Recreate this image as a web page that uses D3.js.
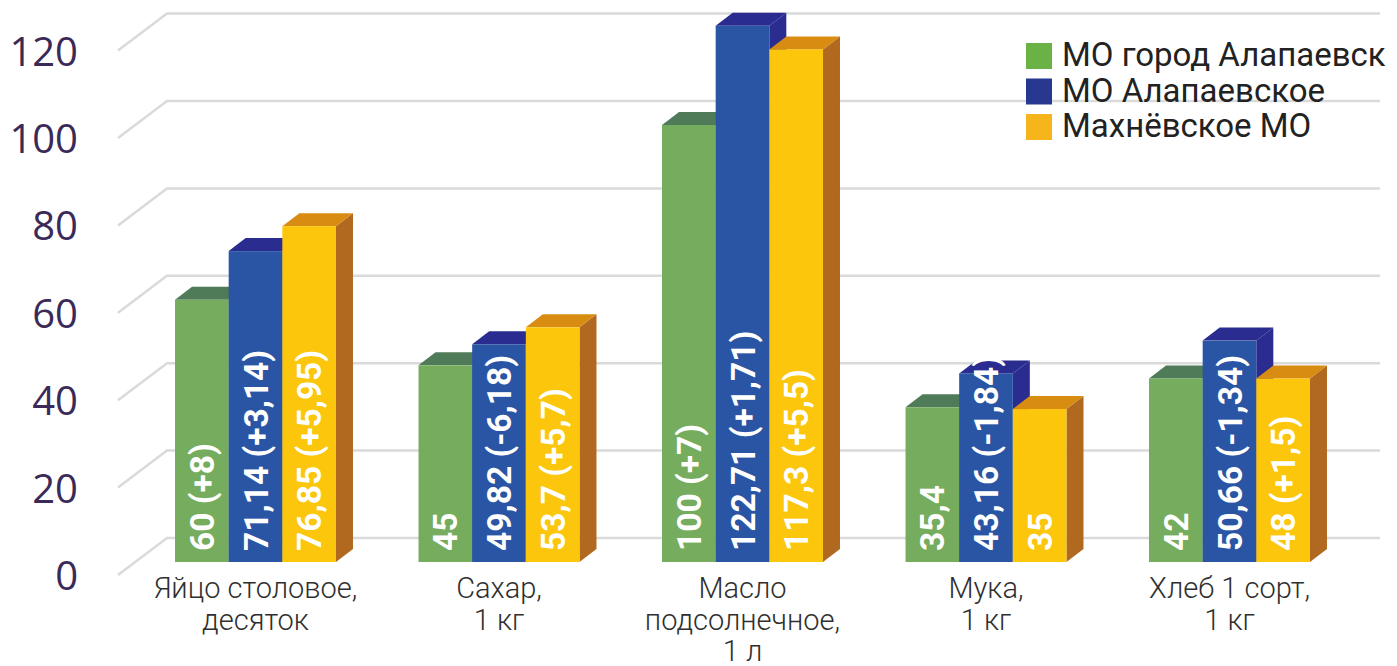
<!DOCTYPE html>
<html><head><meta charset="utf-8">
<script src="https://cdn.jsdelivr.net/npm/d3@7"></script>
<style>html,body{margin:0;padding:0;background:#fff;}svg{display:block;}</style>
</head><body>
<svg id="chart" width="1397" height="666"></svg>
<script>
const categories = [
  ["Яйцо столовое,", "десяток"],
  ["Сахар,", "1 кг"],
  ["Масло", "подсолнечное,", "1 л"],
  ["Мука,", "1 кг"],
  ["Хлеб 1 сорт,", "1 кг"]
];
const seriesNames = ["МО город Алапаевск", "МО Алапаевское", "Махнёвское МО"];
const valuesCity = [60, 45, 100, 35.4, 42];
const valuesAlap = [71.14, 49.82, 122.71, 43.16, 50.66];
const valuesMakh = [76.85, 53.7, 117.3, 35, 42];
const labelsCity = ["60 (+8)", "45", "100 (+7)", "35,4", "42"];
const labelsAlap = ["71,14 (+3,14)", "49,82 (-6,18)", "122,71 (+1,71)", "43,16 (-1,84)", "50,66 (-1,34)"];
const labelsMakh = ["76,85 (+5,95)", "53,7 (+5,7)", "117,3 (+5,5)", "35", "48 (+1,5)"];
const yTicks = [0, 20, 40, 60, 80, 100, 120];

const seriesValues = [valuesCity, valuesAlap, valuesMakh];
const seriesLabels = [labelsCity, labelsAlap, labelsMakh];
const palette = [
  {front: "#75ac5e", top: "#4f7b58", side: "#4f7b58", legend: "#6ab245"},
  {front: "#2a55a5", top: "#2b2c8f", side: "#2b2c8f", legend: "#283891"},
  {front: "#fbc60b", top: "#d98c12", side: "#b0691f", legend: "#f6b51b"}
];

const svg = d3.select("#chart");
const catIdx = categories.map((c, i) => i);
const x = d3.scaleBand().domain(catIdx).range([133.75, 1351.25]).paddingInner(0.339).paddingOuter(0.1695);
const xs = d3.scaleBand().domain([0, 1, 2]).range([0, x.bandwidth()]);
const y = d3.scaleLinear().domain([0, 120]).range([562, 37.6]);

const depthX = 17, depthY = 13;      // bar depth
const backDY = -24, frontDY = 13;    // grid back/front offsets
const gridBackX = 167, gridFrontX = 118, gridRight = 1380;

// gridlines
const grid = svg.append("g");
yTicks.forEach(t => {
  const yy = y(t);
  grid.append("path")
    .attr("d", `M${gridFrontX},${yy + frontDY}L${gridBackX},${yy + backDY}L${gridRight},${yy + backDY}`)
    .attr("fill", "none").attr("stroke", "#dadada").attr("stroke-width", 2.5);
});

// y axis labels
const yAxis = d3.axisLeft(y).tickValues(yTicks).tickSize(0).tickPadding(0);
const gy = svg.append("g").attr("transform", `translate(78,${frontDY})`).call(yAxis);
gy.select(".domain").remove();
gy.selectAll("text").attr("font-family", "'Open Sans', sans-serif").attr("font-size", 40)
  .attr("fill", "#3b2a58").attr("dy", "0.36em");

// bars
const bars = svg.append("g");
catIdx.forEach(ci => {
  [0, 1, 2].forEach(si => {
    const v = seriesValues[si][ci];
    const x0 = x(ci) + xs(si), w = xs.bandwidth();
    const y0 = y(v), yb = y(0);
    const c = palette[si];
    const g = bars.append("g");
    g.append("path").attr("d",
      `M${x0 + w},${y0}L${x0 + w + depthX},${y0 - depthY}L${x0 + w + depthX},${yb - depthY}L${x0 + w},${yb}Z`)
      .attr("fill", c.side);
    g.append("path").attr("d",
      `M${x0},${y0}L${x0 + depthX},${y0 - depthY}L${x0 + w + depthX},${y0 - depthY}L${x0 + w},${y0}Z`)
      .attr("fill", c.top);
    g.append("rect").attr("x", x0).attr("y", y0).attr("width", w).attr("height", yb - y0).attr("fill", c.front);
  });
});

// value labels
const vl = svg.append("g");
catIdx.forEach(ci => {
  [0, 1, 2].forEach(si => {
    const cx = x(ci) + xs(si) + xs.bandwidth() / 2;
    const sy = y(0) - 11;
    vl.append("text")
      .attr("transform", `translate(${cx},${sy}) rotate(-90)`)
      .attr("text-anchor", "start").attr("dy", "0.36em")
      .attr("font-family", "Roboto, sans-serif").attr("font-weight", 700).attr("font-size", 33.5)
      .attr("fill", "#fff").text(seriesLabels[si][ci]);
  });
});

// category labels
const cl = svg.append("g");
catIdx.forEach(ci => {
  const cx = x(ci) + x.bandwidth() / 2;
  const t = cl.append("text").attr("text-anchor", "middle")
    .attr("font-family", "Roboto, sans-serif").attr("font-weight", 300).attr("font-size", 29)
    .attr("fill", "#2f2f2f");
  categories[ci].forEach((line, li) => {
    t.append("tspan").attr("x", cx).attr("y", 598 + li * 31.5).text(line);
  });
});

// legend
const lg = svg.append("g").attr("transform", "translate(1026,43)");
seriesNames.forEach((n, i) => {
  const r = lg.append("g").attr("transform", `translate(0,${i * 35.5})`);
  r.append("rect").attr("width", 26).attr("height", 26).attr("fill", palette[i].legend);
  r.append("text").attr("x", 36).attr("y", 23).attr("font-family", "Roboto, sans-serif")
    .attr("font-size", 33).attr("fill", "#222").text(n);
});
</script>
</body></html>
